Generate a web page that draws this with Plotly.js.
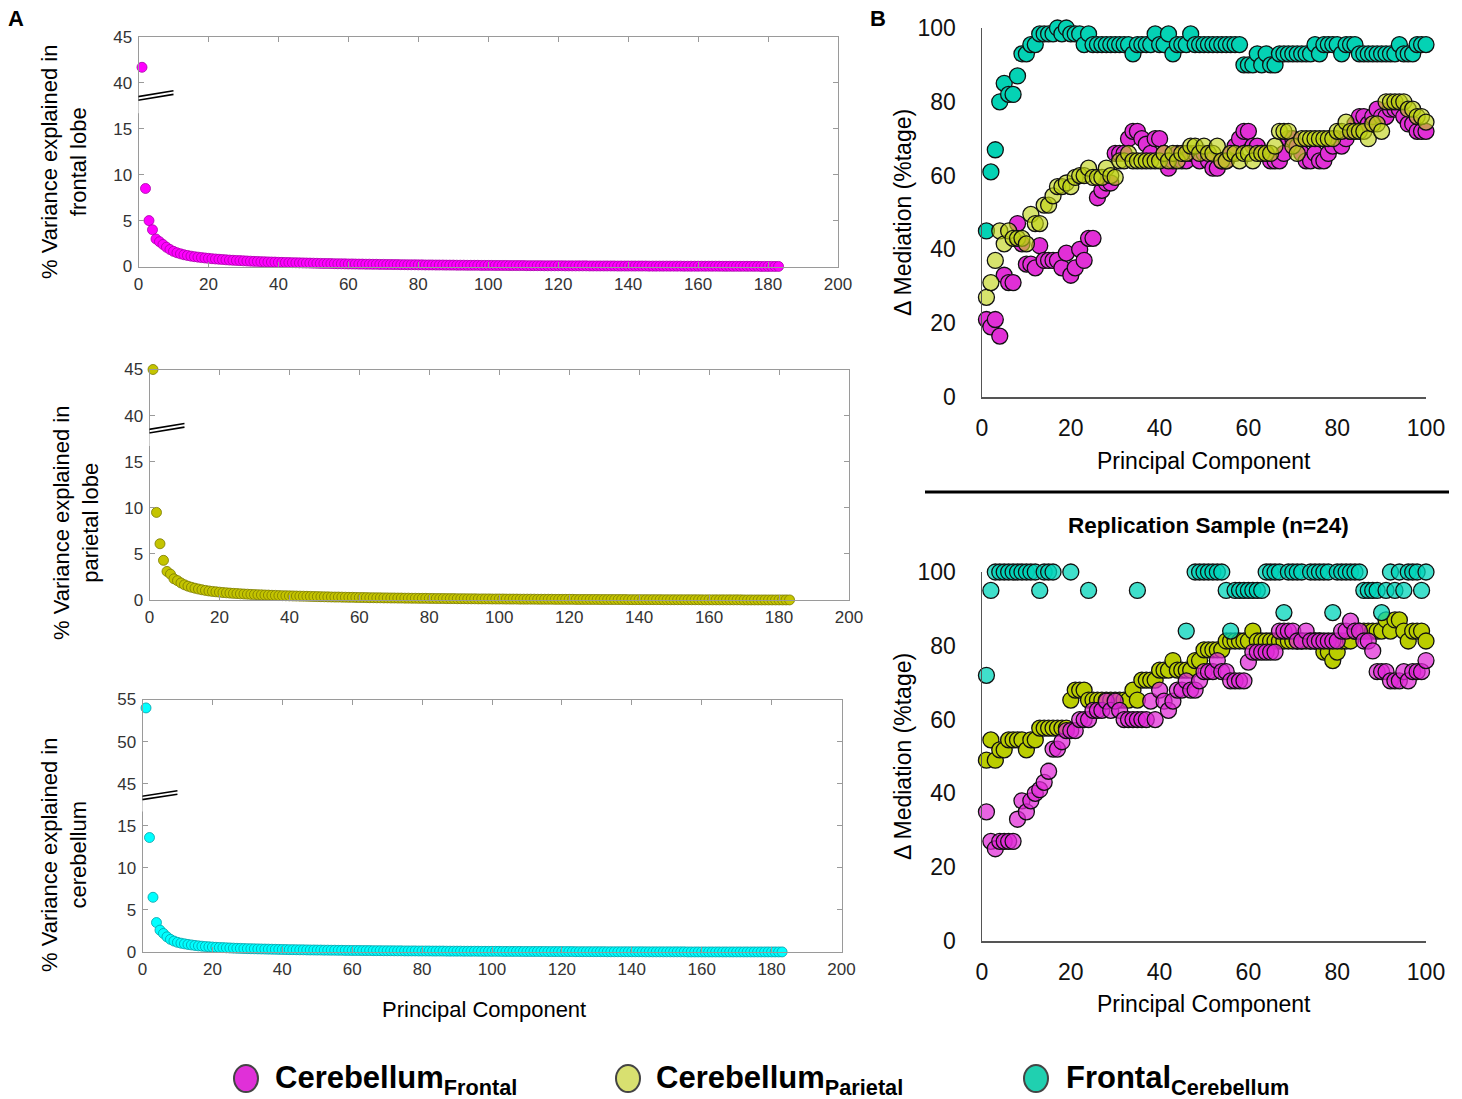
<!DOCTYPE html>
<html><head><meta charset="utf-8">
<script src="https://cdn.plot.ly/plotly-3.0.1.min.js"></script>
<style>body{margin:0;background:#fff}#chart{width:1462px;height:1099px}</style>
</head><body><div id="chart"></div>
<script>
// ---------- Panel A data: % variance explained per principal component ----------
const pcA = Array.from({length:183},(_,i)=>i+1);
const varFrontal = [41.7,8.5,5.0,4.0,3.0,2.7,2.4,2.1,1.85,1.65,
1.5,1.38,1.28,1.2,1.13,1.07,1.02,0.97,0.93,0.89,
0.85,0.82,0.79,0.76,0.73,0.7,0.68,0.66,0.64,0.62,
0.6,0.58,0.56,0.55,0.53,0.52,0.5,0.49,0.48,0.46,
0.45,0.44,0.43,0.42,0.41,0.4,0.39,0.38,0.37,0.36,
0.35,0.34,0.33,0.33,0.32,0.31,0.3,0.3,0.29,0.28,
0.28,0.27,0.26,0.26,0.25,0.25,0.24,0.24,0.23,0.23,
0.22,0.22,0.21,0.21,0.2,0.2,0.19,0.19,0.19,0.18,
0.18,0.17,0.17,0.17,0.16,0.16,0.16,0.15,0.15,0.15,
0.14,0.14,0.14,0.13,0.13,0.13,0.13,0.12,0.12,0.12,
0.12,0.11,0.11,0.11,0.11,0.1,0.1,0.1,0.1,0.1,
0.09,0.09,0.09,0.09,0.09,0.08,0.08,0.08,0.08,0.08,
0.08,0.07,0.07,0.07,0.07,0.07,0.07,0.07,0.06,0.06,
0.06,0.06,0.06,0.06,0.06,0.06,0.05,0.05,0.05,0.05,
0.05,0.05,0.05,0.05,0.05,0.04,0.04,0.04,0.04,0.04,
0.04,0.04,0.04,0.04,0.04,0.03,0.03,0.03,0.03,0.03,
0.03,0.03,0.03,0.03,0.03,0.03,0.02,0.02,0.02,0.02,
0.02,0.02,0.02,0.02,0.02,0.02,0.02,0.01,0.01,0.01,
0.01,0.01,0.01];
const varParietal = [45.0,9.5,6.1,4.3,3.1,2.8,2.3,2.1,1.85,1.65,
1.5,1.38,1.28,1.19,1.11,1.04,0.98,0.93,0.89,0.85,
0.81,0.78,0.75,0.72,0.7,0.67,0.65,0.63,0.61,0.59,
0.57,0.56,0.54,0.53,0.51,0.5,0.48,0.47,0.46,0.45,
0.44,0.43,0.42,0.41,0.4,0.39,0.38,0.37,0.36,0.35,
0.34,0.33,0.32,0.32,0.31,0.3,0.29,0.29,0.28,0.27,
0.27,0.26,0.25,0.25,0.24,0.24,0.23,0.23,0.22,0.22,
0.21,0.21,0.2,0.2,0.19,0.19,0.18,0.18,0.18,0.17,
0.17,0.16,0.16,0.16,0.15,0.15,0.15,0.14,0.14,0.14,
0.13,0.13,0.13,0.12,0.12,0.12,0.12,0.11,0.11,0.11,
0.11,0.1,0.1,0.1,0.1,0.09,0.09,0.09,0.09,0.09,
0.08,0.08,0.08,0.08,0.08,0.07,0.07,0.07,0.07,0.07,
0.07,0.06,0.06,0.06,0.06,0.06,0.06,0.06,0.05,0.05,
0.05,0.05,0.05,0.05,0.05,0.05,0.04,0.04,0.04,0.04,
0.04,0.04,0.04,0.04,0.04,0.04,0.03,0.03,0.03,0.03,
0.03,0.03,0.03,0.03,0.03,0.03,0.03,0.02,0.02,0.02,
0.02,0.02,0.02,0.02,0.02,0.02,0.02,0.02,0.02,0.01,
0.01,0.01,0.01,0.01,0.01,0.01,0.01,0.01,0.01,0.01,
0.01,0.01,0.01];
const varCerebellum = [54.0,13.6,6.5,3.5,2.6,2.2,1.8,1.5,1.3,1.15,
1.05,0.97,0.9,0.84,0.78,0.73,0.69,0.65,0.62,0.59,
0.56,0.54,0.52,0.5,0.48,0.46,0.44,0.43,0.41,0.4,
0.39,0.38,0.37,0.36,0.35,0.34,0.33,0.32,0.31,0.3,
0.29,0.28,0.28,0.27,0.26,0.26,0.25,0.24,0.24,0.23,
0.23,0.22,0.22,0.21,0.21,0.2,0.2,0.19,0.19,0.18,
0.18,0.18,0.17,0.17,0.17,0.16,0.16,0.16,0.15,0.15,
0.15,0.14,0.14,0.14,0.13,0.13,0.13,0.13,0.12,0.12,
0.12,0.12,0.11,0.11,0.11,0.11,0.1,0.1,0.1,0.1,
0.1,0.09,0.09,0.09,0.09,0.09,0.08,0.08,0.08,0.08,
0.08,0.08,0.07,0.07,0.07,0.07,0.07,0.07,0.06,0.06,
0.06,0.06,0.06,0.06,0.06,0.05,0.05,0.05,0.05,0.05,
0.05,0.05,0.05,0.04,0.04,0.04,0.04,0.04,0.04,0.04,
0.04,0.04,0.03,0.03,0.03,0.03,0.03,0.03,0.03,0.03,
0.03,0.03,0.03,0.02,0.02,0.02,0.02,0.02,0.02,0.02,
0.02,0.02,0.02,0.02,0.02,0.01,0.01,0.01,0.01,0.01,
0.01,0.01,0.01,0.01,0.01,0.01,0.01,0.01,0.01,0.01,
0.01,0.01,0.01,0.01,0.01,0.01,0.01,0.01,0.01,0.01,
0.01,0.01,0.01];
const ticksA12 = ['0','5','10','15','40','45'];
const ticksA3 = ['0','5','10','15','45','50','55'];

// ---------- Panel B data: Δ mediation (%) per principal component ----------
const pcB = Array.from({length:100},(_,i)=>i+1);
const frontalCerebTop = [45,61,67,80,85,82,82,87,93,93,
95.5,95.5,98.4,98.4,98.4,98.4,100,98.4,100,98.4,
98.4,98.4,95.5,98.4,95.5,95.5,95.5,95.5,95.5,95.5,
95.5,95.5,95.5,93,95.5,95.5,95.5,95.5,98.4,95.5,
95.5,98.4,93,95.5,95.5,95.5,98.4,95.5,95.5,95.5,
95.5,95.5,95.5,95.5,95.5,95.5,95.5,95.5,90,90,
90,93,90,93,90,90,93,93,93,93,
93,93,93,93,95.5,93,95.5,95.5,95.5,95.5,
93,95.5,95.5,95.5,93,93,93,93,93,93,
93,93,93,95.5,93,93,93,95.5,95.5,95.5];
const cerebFrontalTop = [21,19,21,16.5,33,31,31,47,41.5,36,
36,35,41,37,37,37,37,35,39,33,
35,40,37,43,43,54,56,58,58,66,
66,66,70,72,72,70,68.5,66,70,70,
66,62,64,66,64,64,66,66,64,66,
64,62,62,64,64,66,68,70,72,72,
68,68,66,66,64,64,64,66,70,70,
68,66,64,64,66,64,64,66,68,70,
68,70,72,74,76,76,74,76,78,76,
76,78,78,78,76,74,74,72,72,72];
const cerebParietalTop = [27,31,37,45,41.5,45,43,43,43,41.5,
49.5,47,47,52,52,54.5,57,57,58,57,
59.5,60,60,62,59.5,59.5,59.5,62,60,59.5,
64,64,66,64,64,64,64,64,64,64,
66,64,66,64,66,66,68,68,66,68,
66,66,68,64,64,66,66,64,66,66,
64,66,66,66,66,68,72,72,72,68,
66,70,70,70,70,70,70,70,70,72,
72,74.5,72,72,72,72,70,74,74,72,
80,80,80,80,80,78,78,76,76,74.5];
const frontalCerebRep = [72,95,100,100,100,100,100,100,100,100,
100,100,95,100,100,100,null,null,null,100,
null,null,null,95,null,null,null,null,null,null,
null,null,null,null,95,null,null,null,null,null,
null,null,null,null,null,84,null,100,100,100,
100,100,100,100,95,84,95,95,95,95,
95,95,95,100,100,100,100,89,100,100,
100,100,null,100,100,100,100,100,89,100,
100,100,100,100,100,95,95,95,95,89,
95,100,95,100,95,100,100,100,95,100];
const cerebFrontalRep = [35,27,25,27,27,27,27,33,38,35,
38,40,41,43,46,52,52,54,57,57,
57,60,60,60,62.5,62.5,62.5,65,62.5,65,
62.5,60,60,60,60,60,60,65,60,68,
65,62.5,65,68,68,70.5,68,68,70.5,73,
73,73,76,73,73,70.5,70.5,70.5,70.5,75.6,
78.3,78.3,78.3,78.3,78.3,78.3,84,84,84,84,
81.3,81.3,84,81.3,81.3,81.3,81.3,81.3,81.3,81.3,
84,84,86.7,84,84,81.3,81.3,78.6,73,73,
73,70.5,70.5,70.5,73,70.5,73,73,73,76];
const cerebParietalRep = [49,54.5,49,51.8,51.8,54.5,54.5,54.5,54.5,51.8,
54.5,54.5,57.7,57.7,57.7,57.7,57.7,57.7,57.7,65.3,
68,68,68,65.3,65.3,65.3,65.3,65.3,65.3,65.3,
65.3,65.3,65.3,68,65.3,70.7,70.7,70.7,70.7,73.4,
73.4,73.4,76,73.4,73.4,73.4,73.4,76,76,78.9,
78.9,78.9,78.9,78.9,81.3,81.3,81.3,81.3,81.3,81.3,
84,81.3,81.3,81.3,81.3,81.3,81.3,81.3,81.3,81.3,
81.3,81.3,81.3,81.3,81.3,81.3,78.3,78.3,76,78.3,
81.3,81.3,81.3,84,84,84,84,84,84,84,
87,84,87,87,84,81.3,84,84,84,81.3];
const legendNames = ['Cerebellum<sub>Frontal</sub>','Cerebellum<sub>Parietal</sub>','Frontal<sub>Cerebellum</sub>'];

// ---------- helpers ----------
const W = 1462, H = 1099;
const PX = x => x / W, PY = y => 1 - y / H;
// broken axis: values above the break are shifted down
const brk = (arr, shift) => arr.map(v => v > 20 ? v - shift : v);

const FONT = 'Liberation Sans, Arial, Helvetica, sans-serif';
const mkA = (fill, edge) => ({size: 10, color: fill, line: {color: edge, width: 0.8}});
const mkB = (fill) => ({size: 16, color: fill, line: {color: '#111', width: 1.3}});

const traces = [
  {x: pcA, y: brk(varFrontal, 20), xaxis: 'x', yaxis: 'y', type: 'scatter', mode: 'markers', cliponaxis: false, marker: mkA('#ff00ff', '#a800a8')},
  {x: pcA, y: brk(varParietal, 20), xaxis: 'x2', yaxis: 'y2', type: 'scatter', mode: 'markers', cliponaxis: false, marker: mkA('#c4c400', '#7a7a00')},
  {x: pcA, y: brk(varCerebellum, 25), xaxis: 'x3', yaxis: 'y3', type: 'scatter', mode: 'markers', cliponaxis: false, marker: mkA('#00ffff', '#00a0a8')},
  {x: pcB, y: frontalCerebTop, xaxis: 'x4', yaxis: 'y4', type: 'scatter', mode: 'markers', cliponaxis: false, marker: mkB('#04d2b4')},
  {x: pcB, y: cerebFrontalTop, xaxis: 'x4', yaxis: 'y4', type: 'scatter', mode: 'markers', cliponaxis: false, marker: mkB('#e12fd6')},
  {x: pcB, y: cerebParietalTop, xaxis: 'x4', yaxis: 'y4', type: 'scatter', mode: 'markers', cliponaxis: false, marker: mkB('rgba(190,210,20,0.62)')},
  {x: pcB, y: cerebParietalRep, xaxis: 'x5', yaxis: 'y5', type: 'scatter', mode: 'markers', cliponaxis: false, marker: mkB('#bacd00')},
  {x: pcB, y: cerebFrontalRep, xaxis: 'x5', yaxis: 'y5', type: 'scatter', mode: 'markers', cliponaxis: false, marker: mkB('rgba(225,40,215,0.72)')},
  {x: pcB, y: frontalCerebRep, xaxis: 'x5', yaxis: 'y5', type: 'scatter', mode: 'markers', cliponaxis: false, marker: mkB('rgba(0,212,185,0.75)')}
];

const axA = (d, anchor) => ({domain: d, anchor: anchor, showline: true, linecolor: '#9a9a9a', linewidth: 1,
  mirror: 'ticks', ticks: 'inside', ticklen: 5, tickcolor: '#9a9a9a', showgrid: false, zeroline: false,
  tickfont: {size: 17, color: '#333', family: FONT}});
const xA = (l, r, anchor) => Object.assign(axA([PX(l), PX(r)], anchor), {range: [0, 200], tickvals: [0,20,40,60,80,100,120,140,160,180,200], ticklabelstandoff: 2});
const yA = (b, t, anchor, n, labels) => Object.assign(axA([PY(b), PY(t)], anchor), {range: [0, n*5], tickvals: labels.map((_, i) => i*5), ticktext: labels, ticklabelstandoff: 2});
const axB = (d, anchor) => ({domain: d, anchor: anchor, showline: true, linecolor: '#555', linewidth: 1.5,
  ticks: '', showgrid: false, zeroline: false, range: [0, 100], tickvals: [0,20,40,60,80,100],
  tickfont: {size: 23, color: '#111', family: FONT}});

const layout = {
  width: W, height: H, margin: {l: 0, r: 0, t: 0, b: 0}, showlegend: false,
  paper_bgcolor: '#fff', plot_bgcolor: '#fff', font: {family: FONT},
  xaxis: xA(138.5, 838, 'y'), yaxis: yA(266.5, 37, 'x', 5, ticksA12),
  xaxis2: xA(149.5, 849, 'y2'), yaxis2: yA(600, 369.5, 'x2', 5, ticksA12),
  xaxis3: xA(142.5, 841.5, 'y3'), yaxis3: yA(952, 699.5, 'x3', 6, ticksA3),
  xaxis4: Object.assign(axB([PX(982), PX(1426)], 'y4'), {ticklabelstandoff: 10}),
  yaxis4: Object.assign(axB([PY(397), PY(28)], 'x4'), {ticklabelstandoff: 20}),
  xaxis5: Object.assign(axB([PX(982), PX(1426)], 'y5'), {ticklabelstandoff: 10}),
  yaxis5: Object.assign(axB([PY(941), PY(572)], 'x5'), {ticklabelstandoff: 20}),
  shapes: [], annotations: []
};

// axis-break marks on panel A
[['x','y'],['x2','y2'],['x3','y3']].forEach(([xr, yr]) => {
  layout.shapes.push({type: 'rect', xref: xr, yref: yr, x0: -0.6, x1: 0.6, y0: 16.7, y1: 18.1, fillcolor: '#fff', line: {width: 0}, layer: 'above'});
  layout.shapes.push({type: 'line', xref: xr, yref: yr, x0: -0.3, x1: 10, y0: 18.1, y1: 18.75, line: {color: '#000', width: 1.6}, layer: 'above'});
  layout.shapes.push({type: 'line', xref: xr, yref: yr, x0: -0.3, x1: 10, y0: 18.5, y1: 19.15, line: {color: '#000', width: 1.6}, layer: 'above'});
});
// separator line in panel B
layout.shapes.push({type: 'line', xref: 'paper', yref: 'paper', x0: PX(925), x1: PX(1449), y0: PY(492), y1: PY(492), line: {color: '#000', width: 3}});

const ann = (text, x, y, size, opts) => Object.assign({text: text, xref: 'paper', yref: 'paper', x: PX(x), y: PY(y),
  showarrow: false, xanchor: 'center', yanchor: 'middle', font: {size: size, color: '#000', family: FONT}}, opts || {});
layout.annotations.push(
  ann('<b>A</b>', 16, 18, 22),
  ann('<b>B</b>', 878, 18, 22),
  ann('% Variance explained in<br>frontal lobe', 64, 162, 22, {textangle: -90}),
  ann('% Variance explained in<br>parietal lobe', 76, 523, 22, {textangle: -90}),
  ann('% Variance explained in<br>cerebellum', 64, 855, 22, {textangle: -90}),
  ann('Principal Component', 484, 1009, 22),
  ann('Principal Component', 1204, 461, 23),
  ann('Principal Component', 1204, 1004, 23),
  ann('\u0394 Mediation (%tage)', 903, 213, 23, {textangle: -90}),
  ann('\u0394 Mediation (%tage)', 903, 757, 23, {textangle: -90}),
  ann('<b>Replication Sample (n=24)</b>', 1208, 525, 22.5)
);

// legend (drawn manually so the entries can sit where the original puts them)
const legCols = ['#e030d8', '#d8e070', '#20d0b0'];
const legX = [246, 628, 1036];
const legTextX = [273, 654, 1064];
legendNames.forEach((t, i) => {
  layout.shapes.push({type: 'circle', xref: 'paper', yref: 'paper', x0: PX(legX[i]-12), x1: PX(legX[i]+12),
    y0: PY(1092), y1: PY(1065), fillcolor: legCols[i], line: {color: '#444', width: 2}});
  layout.annotations.push(ann('<b>' + t + '</b>', legTextX[i], 1080, 31,
    {xanchor: 'left', font: {size: 31, color: '#000', family: 'Liberation Sans Narrow, Arial Narrow, Liberation Sans, Arial, sans-serif'}}));
});

Plotly.newPlot('chart', traces, layout, {staticPlot: true});
</script></body></html>
